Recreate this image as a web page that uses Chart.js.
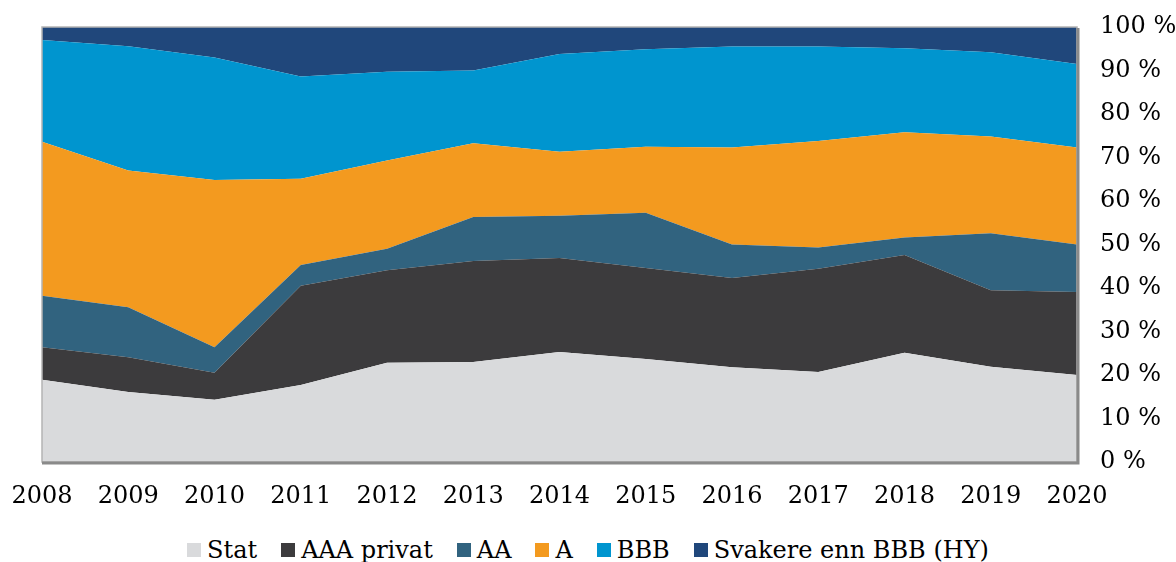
<!DOCTYPE html>
<html>
<head>
<meta charset="utf-8">
<script src="https://cdn.jsdelivr.net/npm/chart.js@4.4.1/dist/chart.umd.min.js"></script>
<style>
    body { margin: 0; background: #fff; }
    #wrap { position: relative; width: 1176px; height: 510px; }
    #legend {
        position: absolute; top: 535px; left: 0; width: 1176px; height: 30px;
        display: flex; justify-content: center; align-items: center;
        font-family: "DejaVu Serif", serif; font-size: 24px; color: #000;
        white-space: nowrap;
    }
    .item { display: inline-flex; align-items: center; margin: 0 12px; }
    .box { width: 14px; height: 14px; margin-right: 6px; }
</style>
</head>
<body>
<div id="wrap"><canvas id="chart" width="1176" height="510"></canvas></div>
<div id="legend"></div>
<script>
// Andel av portefølje etter rating, 2008-2020
const years = ['2008', '2009', '2010', '2011', '2012', '2013', '2014', '2015', '2016', '2017', '2018', '2019', '2020'];

const stat     = [18.9, 16.1, 14.3, 17.7, 22.8, 23.0, 25.3, 23.7, 21.8, 20.7, 25.1, 21.9, 20.0];
const aaa      = [7.5, 8.0, 6.2, 22.8, 21.3, 23.2, 21.6, 20.9, 20.5, 23.7, 22.5, 17.6, 19.1];
const aa       = [11.8, 11.5, 5.9, 4.8, 4.9, 10.1, 9.7, 12.7, 7.7, 4.9, 4.0, 13.1, 10.9];
const aRating  = [35.4, 31.4, 38.4, 19.8, 20.3, 17.0, 14.7, 15.2, 22.3, 24.5, 24.2, 22.2, 22.3];
const bbb      = [23.4, 28.6, 28.2, 23.5, 20.4, 16.7, 22.5, 22.4, 23.2, 21.7, 19.3, 19.4, 19.2];
const hy       = [3.0, 4.4, 7.0, 11.4, 10.3, 10.0, 6.2, 5.1, 4.5, 4.5, 4.9, 5.8, 8.5];

const seriesNames = ['Stat', 'AAA privat', 'AA', 'A', 'BBB', 'Svakere enn BBB (HY)'];
const yTicks = [0, 10, 20, 30, 40, 50, 60, 70, 80, 90, 100];

const colors = ['#d9dadc', '#3c3b3d', '#31637f', '#f39a1f', '#0095cf', '#20477b'];
const seriesData = [stat, aaa, aa, aRating, bbb, hy];

const frameBorder = {
    id: 'frameBorder',
    afterDatasetsDraw(chart) {
        const { ctx, chartArea: a } = chart;
        ctx.save();
        ctx.strokeStyle = '#b4b4b4';
        ctx.lineWidth = 1.5;
        ctx.strokeRect(a.left, a.top, a.right - a.left, a.bottom - a.top);
        ctx.strokeStyle = '#8a8a8a';
        ctx.lineWidth = 3;
        ctx.beginPath();
        ctx.moveTo(a.left, a.bottom + 1);
        ctx.lineTo(a.right + 1, a.bottom + 1);
        ctx.lineTo(a.right + 1, a.top + 1);
        ctx.stroke();
        ctx.restore();
    }
};

new Chart(document.getElementById('chart'), {
    type: 'line',
    data: {
        labels: years,
        datasets: seriesData.map((d, i) => ({
            label: seriesNames[i],
            data: d,
            backgroundColor: colors[i],
            borderColor: colors[i],
            borderWidth: 0,
            pointRadius: 0,
            tension: 0,
            fill: i === 0 ? 'origin' : '-1'
        }))
    },
    options: {
        responsive: false,
        animation: false,
        layout: { padding: { left: 42, top: 27, bottom: 3, right: 0 } },
        plugins: {
            legend: { display: false },
            tooltip: { enabled: false }
        },
        scales: {
            x: {
                offset: false,
                grid: { display: false, drawTicks: false },
                border: { display: false },
                afterFit: axis => {
                    axis.height = 45;
                    axis.paddingLeft = 0;
                    axis.paddingRight = 0;
                },
                ticks: {
                    color: '#000',
                    padding: 20,
                    maxRotation: 0,
                    autoSkip: false,
                    font: { family: 'DejaVu Serif', size: 24 }
                }
            },
            y: {
                position: 'right',
                stacked: true,
                min: 0,
                max: 100,
                grid: { display: false, drawTicks: false },
                border: { display: false },
                afterFit: axis => {
                    axis.width = 99;
                    axis.paddingTop = 0;
                    axis.paddingBottom = 0;
                },
                afterBuildTicks: axis => { axis.ticks = yTicks.map(v => ({ value: v })); },
                ticks: {
                    color: '#000',
                    padding: 23,
                    callback: v => v + ' %',
                    font: { family: 'DejaVu Serif', size: 24 }
                }
            }
        }
    },
    plugins: [frameBorder]
});

// legend
const legendEl = document.getElementById('legend');
seriesNames.forEach((name, i) => {
    const item = document.createElement('span');
    item.className = 'item';
    item.innerHTML = '<span class="box" style="background:' + colors[i] + '"></span><span>' + name + '</span>';
    legendEl.appendChild(item);
});
</script>
</body>
</html>
